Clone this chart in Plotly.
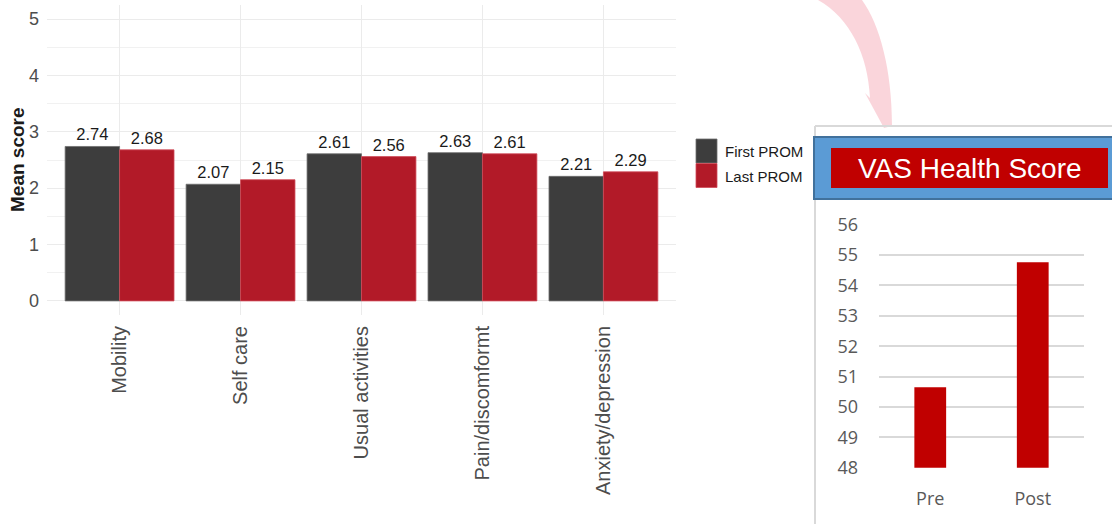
import plotly.graph_objects as go

# EQ-5D domains: mean scores at first and last PROM
domains = ["Mobility", "Self care", "Usual activities", "Pain/discomformt", "Anxiety/depression"]
first_prom = [2.74, 2.07, 2.61, 2.63, 2.21]
last_prom = [2.68, 2.15, 2.56, 2.61, 2.29]
series_names = ["First PROM", "Last PROM"]
series_colors = ["#3d3d3d", "#b21a28"]
series_edges = ["#6e6e6e", "#d04a58"]
y_ticks = [0, 1, 2, 3, 4, 5]

# VAS health score before and after
vas_labels = ["Pre", "Post"]
vas_values = [50.65, 54.76]
vas_ticks = [48, 49, 50, 51, 52, 53, 54, 55, 56]

W, H = 1112, 524


def px_x(x):
    return x / W


def px_y(y):
    return 1 - y / H


SANS = "Liberation Sans, Arial"
OPEN = "Open Sans, Noto Sans, Calibri, sans-serif"

fig = go.Figure()

# grouped bars, explicit offsets so each group fills 90% of its slot
for vals, name, col, edge, off in zip([first_prom, last_prom], series_names,
                                      series_colors, series_edges, [-0.45, 0.0]):
    fig.add_trace(go.Bar(
        x=domains, y=vals, name=name, width=0.45, offset=off,
        marker=dict(color=col, line=dict(color=edge, width=0.8)),
        text=[f"{v:.2f}" for v in vals], textposition="outside",
        textfont=dict(family=SANS, size=16.5, color="#1a1a1a"),
        textangle=0, cliponaxis=False, showlegend=False,
        xaxis="x", yaxis="y",
    ))

fig.add_trace(go.Bar(
    x=vas_labels, y=vas_values, width=0.31,
    marker=dict(color="#c00000", line=dict(width=0)),
    showlegend=False, xaxis="x2", yaxis="y2",
))

# layout geometry (pixels -> paper)
x1_dom = [px_x(47), px_x(676)]
y1_dom = [px_y(315), px_y(5)]
x2_dom = [px_x(879), px_x(1084)]
y2_dom = [px_y(467.7), px_y(224.7)]

fig.update_layout(
    width=W, height=H,
    margin=dict(l=0, r=0, t=0, b=0, autoexpand=False),
    paper_bgcolor="white", plot_bgcolor="white",
    barmode="overlay",
    xaxis=dict(domain=x1_dom, type="category", range=[-0.6, 4.6], automargin=False,
               showgrid=True, gridcolor="#ebebeb", gridwidth=1,
               tickangle=-90, ticks="", showline=False, zeroline=False,
               tickfont=dict(family=SANS, size=20, color="#4d4d4d"),
               ticklabelstandoff=6),
    yaxis=dict(domain=y1_dom, range=[-0.25, 5.25], tickvals=y_ticks, automargin=False,
               showgrid=True, gridcolor="#ebebeb", gridwidth=1,
               minor=dict(dtick=0.5, tick0=0, showgrid=True, gridcolor="#f1f1f1", gridwidth=1),
               zeroline=False, ticks="", showline=False,
               tickfont=dict(family=SANS, size=18, color="#4d4d4d"),
               ticklabelstandoff=7),
    xaxis2=dict(domain=x2_dom, anchor="y2", type="category", range=[-0.5, 1.5],
                automargin=False,
                showgrid=False, ticks="", showline=False, zeroline=False,
                tickfont=dict(family=OPEN, size=18, color="#595959"),
                ticklabelstandoff=18),
    yaxis2=dict(domain=y2_dom, anchor="x2", range=[48, 56], tickvals=vas_ticks,
                automargin=False,
                showgrid=True, gridcolor="#d9d9d9", gridwidth=1.5,
                zeroline=False, ticks="", showline=False,
                tickfont=dict(family=OPEN, size=18, color="#595959"),
                ticklabelstandoff=20),
)

shapes = []
annotations = []

# pink curved arrow pointing into the VAS panel
pts = "M {} C {} {} {} L {} L {} L {} C {} {} {} Z".format(
    "%.5f,%.5f" % (px_x(818), px_y(0)),
    "%.5f,%.5f" % (px_x(850), px_y(18)), "%.5f,%.5f" % (px_x(868), px_y(55)),
    "%.5f,%.5f" % (px_x(870), px_y(98)),
    "%.5f,%.5f" % (px_x(865), px_y(93)),
    "%.5f,%.5f" % (px_x(884), px_y(128)),
    "%.5f,%.5f" % (px_x(892), px_y(126)),
    "%.5f,%.5f" % (px_x(892), px_y(70)), "%.5f,%.5f" % (px_x(880), px_y(25)),
    "%.5f,%.5f" % (px_x(862), px_y(0)),
)
shapes.append(dict(type="path", path=pts, xref="paper", yref="paper",
                   fillcolor="rgba(248,190,200,0.65)", line=dict(width=0), layer="below"))

# VAS panel frame
shapes.append(dict(type="line", xref="paper", yref="paper",
                   x0=px_x(815), x1=px_x(815), y0=px_y(126), y1=px_y(524),
                   line=dict(color="#d9d9d9", width=2)))
shapes.append(dict(type="line", xref="paper", yref="paper",
                   x0=px_x(815), x1=px_x(1112), y0=px_y(126), y1=px_y(126),
                   line=dict(color="#d9d9d9", width=2)))
# blue title band and red title box
shapes.append(dict(type="rect", xref="paper", yref="paper",
                   x0=px_x(814), x1=px_x(1116), y0=px_y(199), y1=px_y(137),
                   fillcolor="#5b9bd5", line=dict(color="#41719c", width=2)))
shapes.append(dict(type="rect", xref="paper", yref="paper",
                   x0=px_x(831), x1=px_x(1108), y0=px_y(188), y1=px_y(148),
                   fillcolor="#c00000", line=dict(width=0)))
annotations.append(dict(text="VAS Health Score", xref="paper", yref="paper",
                        x=px_x(969.5), y=px_y(168), showarrow=False,
                        xanchor="center", yanchor="middle",
                        font=dict(family=SANS, size=28, color="white")))

# legend for the grouped bars
for i, (name, col, edge) in enumerate(zip(series_names, series_colors, series_edges)):
    top = 139 + i * 24.5
    shapes.append(dict(type="rect", xref="paper", yref="paper",
                       x0=px_x(696), x1=px_x(717), y0=px_y(top + 24), y1=px_y(top),
                       fillcolor=col, line=dict(color=edge, width=0.8)))
    annotations.append(dict(text=name, xref="paper", yref="paper",
                            x=px_x(723), y=px_y(top + 12.5), showarrow=False,
                            xanchor="left", yanchor="middle",
                            font=dict(family=SANS, size=15, color="#1a1a1a")))

# y-axis title
annotations.append(dict(text="<b>Mean score</b>", xref="paper", yref="paper",
                        x=px_x(17), y=px_y(160), showarrow=False, textangle=-90,
                        xanchor="center", yanchor="middle",
                        font=dict(family=SANS, size=19, color="#1a1a1a")))

fig.update_layout(shapes=shapes, annotations=annotations)

fig.write_html("out.html")
